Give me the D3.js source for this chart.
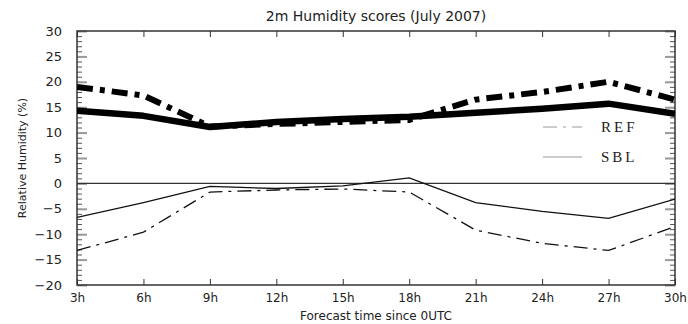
<!DOCTYPE html>
<html>
<head>
<meta charset="utf-8">
<title>2m Humidity scores</title>
<script src="https://d3js.org/d3.v7.min.js"></script>
<style>
  body { margin: 0; background: #fff; }
  text { font-family: "DejaVu Sans", sans-serif; fill: #222; }
</style>
</head>
<body>
<div id="chart"></div>
<script>
// data
var hours = [3, 6, 9, 12, 15, 18, 21, 24, 27, 30];
var xTickLabels = ["3h", "6h", "9h", "12h", "15h", "18h", "21h", "24h", "27h", "30h"];
var yTicks = [-20, -15, -10, -5, 0, 5, 10, 15, 20, 25, 30];
var yMinorTicks = d3.range(-20, 31, 1);

// thick lines (upper curves)
var refUpper = [19.0, 17.3, 11.2, 11.7, 12.1, 12.5, 16.5, 18.0, 20.0, 16.5];
var sblUpper = [14.3, 13.3, 11.1, 12.1, 12.7, 13.1, 13.9, 14.7, 15.7, 13.7];
// thin lines (lower curves)
var refLower = [-13.2, -9.6, -1.7, -1.3, -1.1, -1.7, -9.2, -11.8, -13.2, -8.5];
var sblLower = [-6.7, -3.8, -0.6, -1.0, -0.5, 1.1, -3.8, -5.5, -6.9, -3.1];

var W = 688, H = 324;
var margin = {top: 31, right: 13, bottom: 39, left: 77};
var plotW = W - margin.left - margin.right;
var plotH = H - margin.top - margin.bottom;

var svg = d3.select("#chart").append("svg")
  .attr("width", W).attr("height", H);

var g = svg.append("g")
  .attr("transform", "translate(" + margin.left + "," + margin.top + ")");

var x = d3.scaleLinear().domain([3, 30]).range([0, plotW]);
var y = d3.scaleLinear().domain([-20, 30]).range([plotH, 0]);

var axisColor = "#333";

// title
svg.append("text")
  .attr("x", margin.left + plotW / 2).attr("y", 21)
  .attr("text-anchor", "middle")
  .style("font-size", "14px")
  .text("2m Humidity scores (July 2007)");

// y ticks, left and right, minor then major
function styleAxis(sel, color, width) {
  sel.select(".domain").remove();
  sel.selectAll(".tick line").style("stroke", color).style("stroke-width", width);
}
var yMinL = g.append("g").call(d3.axisLeft(y).tickValues(yMinorTicks).tickSize(-5).tickFormat(""));
styleAxis(yMinL, "#555", 1);
var yMinR = g.append("g").attr("transform", "translate(" + plotW + ",0)")
  .call(d3.axisRight(y).tickValues(yMinorTicks).tickSize(-5).tickFormat(""));
styleAxis(yMinR, "#555", 1);

var yMajL = g.append("g").call(d3.axisLeft(y).tickValues(yTicks).tickSize(-10)
  .tickPadding(15)
  .tickFormat(function(d) { return d < 0 ? "\u2212" + Math.abs(d) : d; }));
styleAxis(yMajL, "#999", 2);
yMajL.selectAll("text").style("font-size", "13px").style("font-family", "DejaVu Sans, sans-serif").attr("fill", "#222");
var yMajR = g.append("g").attr("transform", "translate(" + plotW + ",0)")
  .call(d3.axisRight(y).tickValues(yTicks).tickSize(-10).tickFormat(""));
styleAxis(yMajR, "#999", 2);

// x axis ticks (bottom & top)
var xAxis = d3.axisBottom(x).tickValues(hours)
  .tickFormat(function(d, i) { return xTickLabels[i]; })
  .tickSize(-6).tickPadding(8);
var xg = g.append("g").attr("transform", "translate(0," + plotH + ")").call(xAxis);
styleAxis(xg, axisColor, 1);
xg.selectAll("text").style("font-size", "12px").style("font-family", "DejaVu Sans, sans-serif").attr("fill", "#222");

var xtg = g.append("g").call(d3.axisTop(x).tickValues(hours).tickSize(-6).tickFormat(""));
styleAxis(xtg, axisColor, 1);

// frame
g.append("rect")
  .attr("x", 0).attr("y", 0).attr("width", plotW).attr("height", plotH)
  .attr("fill", "none").attr("stroke", axisColor).attr("stroke-width", 1.5);

// zero line
g.append("line")
  .attr("x1", 0).attr("x2", plotW)
  .attr("y1", y(0)).attr("y2", y(0))
  .attr("stroke", "#333").attr("stroke-width", 1.3);

// axis titles
svg.append("text")
  .attr("x", margin.left + plotW / 2).attr("y", 320)
  .attr("text-anchor", "middle")
  .style("font-size", "12px")
  .text("Forecast time since 0UTC");

svg.append("text")
  .attr("transform", "translate(26," + (margin.top + plotH / 2) + ") rotate(-90)")
  .attr("text-anchor", "middle")
  .style("font-size", "11px")
  .text("Relative Humidity (%)");

// lines
var line = d3.line()
  .x(function(d, i) { return x(hours[i]); })
  .y(function(d) { return y(d); });

var clip = svg.append("defs").append("clipPath").attr("id", "plotclip");
clip.append("rect").attr("width", plotW).attr("height", plotH);
var lines = g.append("g").attr("clip-path", "url(#plotclip)");

lines.append("path").datum(refUpper).attr("d", line)
  .attr("fill", "none").attr("stroke", "#000").attr("stroke-width", 6)
  .attr("stroke-dasharray", "16,7,5,7");
lines.append("path").datum(sblUpper).attr("d", line)
  .attr("fill", "none").attr("stroke", "#000").attr("stroke-width", 6.5)
  .attr("stroke-linejoin", "round");
lines.append("path").datum(refLower).attr("d", line)
  .attr("fill", "none").attr("stroke", "#111").attr("stroke-width", 1.3)
  .attr("stroke-dasharray", "14,6,3,6");
lines.append("path").datum(sblLower).attr("d", line)
  .attr("fill", "none").attr("stroke", "#111").attr("stroke-width", 1.3);

// legend
var legend = svg.append("g");
var legItems = [
  {name: "REF", dash: "14,6,3,6", y: 127},
  {name: "SBL", dash: null, y: 157}
];
legItems.forEach(function(it) {
  legend.append("line")
    .attr("x1", 543).attr("x2", 582)
    .attr("y1", it.y).attr("y2", it.y)
    .attr("stroke", "#999").attr("stroke-width", 1.2)
    .attr("stroke-dasharray", it.dash);
  legend.append("text")
    .attr("x", 601).attr("y", it.y + 5)
    .style("font-family", "Liberation Serif, serif")
    .style("font-size", "15px")
    .style("letter-spacing", "3px")
    .text(it.name);
});
</script>
</body>
</html>
